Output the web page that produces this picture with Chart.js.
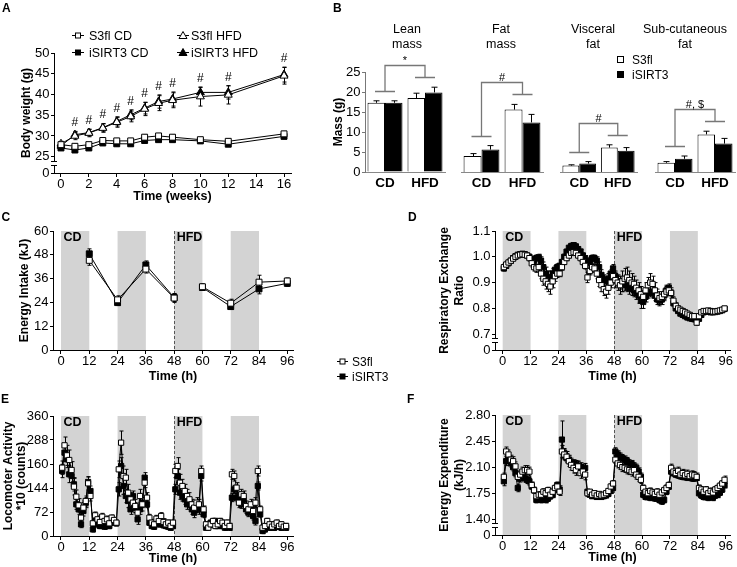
<!DOCTYPE html>
<html>
<head>
<meta charset="utf-8">
<title>Body weight, body composition and metabolic cage data</title>
<script src="https://cdn.jsdelivr.net/npm/chart.js@4.4.1/dist/chart.umd.min.js"></script>
<style>
  html, body { margin: 0; padding: 0; background: #fff; }
  body { position: relative; width: 737px; height: 567px; overflow: hidden; }
  canvas { position: absolute; }
  svg { position: absolute; left: 0; top: 0; pointer-events: none; }
  svg text { font-family: "Liberation Sans", Arial, sans-serif; fill: #000; }
</style>
</head>
<body>
<canvas id="chartA" width="300" height="205" style="left:0;top:0"></canvas>
<canvas id="chartLean" width="118" height="195" style="left:330px;top:0"></canvas>
<canvas id="chartFat" width="98" height="195" style="left:450px;top:0"></canvas>
<canvas id="chartVisc" width="95" height="195" style="left:548px;top:0"></canvas>
<canvas id="chartSub" width="97" height="195" style="left:640px;top:0"></canvas>
<canvas id="chartC" width="300" height="182" style="left:0;top:205px"></canvas>
<canvas id="chartD" width="357" height="182" style="left:380px;top:205px"></canvas>
<canvas id="chartE" width="300" height="177" style="left:0;top:390px"></canvas>
<canvas id="chartF" width="357" height="177" style="left:380px;top:390px"></canvas>

<svg width="737" height="567">
  <g font-weight="bold" font-size="12">
    <text x="2" y="11.5">A</text>
    <text x="333" y="11.5">B</text>
    <text x="1.5" y="220.5">C</text>
    <text x="408" y="220.5">D</text>
    <text x="1" y="402.5">E</text>
    <text x="407" y="402.5">F</text>
  </g>
  <!-- legend A -->
  <g stroke="#000" stroke-width="1">
    <line x1="72" y1="35.5" x2="84" y2="35.5"/>
    <rect x="75.5" y="33" width="5" height="5" fill="#fff"/>
    <line x1="72" y1="52.5" x2="84" y2="52.5"/>
    <rect x="75.5" y="50" width="5" height="5" fill="#000"/>
    <line x1="177" y1="35.5" x2="189" y2="35.5"/>
    <polygon points="183,31.5 187,38.5 179,38.5" fill="#fff"/>
    <line x1="177" y1="52.5" x2="189" y2="52.5"/>
    <polygon points="183,48.5 187,55.5 179,55.5" fill="#000"/>
  </g>
  <g font-size="12.5">
    <text x="89" y="39.5">S3fl CD</text>
    <text x="89" y="56.5">iSIRT3 CD</text>
    <text x="191" y="39.5">S3fl HFD</text>
    <text x="191" y="56.5">iSIRT3 HFD</text>
  </g>
  <!-- legend B -->
  <rect x="617.5" y="56.5" width="6" height="6" fill="#fff" stroke="#000"/>
  <rect x="617.5" y="71.5" width="6" height="6" fill="#000" stroke="#000"/>
  <g font-size="12">
    <text x="632" y="63.5">S3fl</text>
    <text x="632" y="78.5">iSIRT3</text>
  </g>
  <!-- titles B -->
  <g font-size="12.5" text-anchor="middle">
    <text x="407" y="33">Lean</text><text x="407" y="47.5">mass</text>
    <text x="501" y="33">Fat</text><text x="501" y="47.5">mass</text>
    <text x="593" y="33">Visceral</text><text x="593" y="47.5">fat</text>
    <text x="685" y="33">Sub-cutaneous</text><text x="685" y="47.5">fat</text>
  </g>
  <!-- legend C-F -->
  <g stroke="#000" stroke-width="1">
    <line x1="337" y1="361.5" x2="348" y2="361.5"/>
    <rect x="340" y="359" width="5" height="5" fill="#fff"/>
    <line x1="337" y1="376.5" x2="348" y2="376.5"/>
    <rect x="340" y="374" width="5" height="5" fill="#000"/>
  </g>
  <g font-size="12">
    <text x="352" y="365.5">S3fl</text>
    <text x="352" y="380.5">iSIRT3</text>
  </g>
</svg>

<script>
// ---- A: body weight (g) per week ----
const weeks = [0, 1, 2, 3, 4, 5, 6, 7, 8, 10, 12, 16];
const bwS3flCD      = [27.9, 27.5, 27.9, 28.9, 28.8, 28.8, 29.7, 30.0, 29.7, 29.1, 28.7, 30.5];
const bwS3flCDErr   = [0.5, 0.6, 0.5, 0.6, 0.6, 0.6, 0.6, 0.6, 0.6, 0.5, 0.6, 0.6];
const bwIsirtCD     = [27.1, 26.6, 27.1, 28.3, 28.1, 28.1, 28.9, 29.1, 29.1, 28.8, 28.0, 29.9];
const bwIsirtCDErr  = [0.5, 0.5, 0.5, 0.5, 0.5, 0.5, 0.5, 0.5, 0.5, 0.5, 0.5, 0.6];
const bwS3flHFD     = [28.1, 30.0, 30.7, 31.9, 33.3, 34.7, 36.5, 37.9, 38.6, 39.5, 39.9, 44.5];
const bwS3flHFDErr  = [0.6, 0.9, 0.9, 1.0, 1.2, 1.3, 1.6, 1.8, 1.8, 2.3, 2.2, 2.0];
const bwIsirtHFD    = [27.6, 30.3, 30.8, 32.0, 33.5, 35.1, 36.7, 38.3, 38.9, 40.5, 40.5, 44.8];
const bwIsirtHFDErr = [0.5, 0.8, 0.8, 1.0, 1.1, 1.2, 1.4, 1.6, 1.7, 1.2, 1.6, 1.8];
const sigA = ['', '#', '#', '#', '#', '#', '#', '#', '#', '#', '#', '#'];
const weekTicks = [0, 2, 4, 6, 8, 10, 12, 14, 16];
const bwTicks = [25, 30, 35, 40, 45, 50];

// ---- B: body composition (g) ----
const diets = ['CD', 'HFD'];
const leanS3fl = [17.3, 18.5],  leanS3flErr = [0.5, 1.2];
const leanIsirt = [17.3, 19.9], leanIsirtErr = [0.5, 1.3];
const fatS3fl = [4.0, 15.6],    fatS3flErr = [0.6, 1.3];
const fatIsirt = [5.6, 12.4],   fatIsirtErr = [1.0, 2.0];
const viscS3fl = [1.6, 6.1],    viscS3flErr = [0.2, 0.7];
const viscIsirt = [2.1, 5.3],   viscIsirtErr = [0.5, 0.8];
const subS3fl = [2.3, 9.4],     subS3flErr = [0.3, 0.8];
const subIsirt = [3.3, 7.1],    subIsirtErr = [0.7, 1.3];
const sigB = ['*', '#', '#', '#, $'];
const massTicks = [0, 5, 10, 15, 20, 25];

// ---- C: energy intake (kJ) per 12 h ----
const hoursC = [12, 24, 36, 48, 60, 72, 84, 96];
const intakeS3fl     = [45.2, 25.3, 40.8, 26.2, 31.9, 23.6, 34.2, 34.8];
const intakeS3flErr  = [2.5, 2.0, 2.0, 2.2, 1.5, 2.0, 3.5, 1.5];
const intakeIsirt    = [48.5, 23.9, 42.9, 26.5, 31.5, 21.9, 30.8, 33.6];
const intakeIsirtErr = [2.5, 1.5, 2.0, 2.0, 1.5, 1.5, 2.5, 1.5];
const intakeTicks = [0, 12, 24, 36, 48, 60];

// ---- D-F: hourly metabolic cage readings ----
const hours = [
  0.5, 1.5, 2.5, 3.5, 4.5, 5.5, 6.5, 7.5, 8.5, 9.5, 10.5, 11.5,
  12.5, 13.5, 14.5, 15.5, 16.5, 17.5, 18.5, 19.5, 20.5, 21.5, 22.5, 23.5,
  24.5, 25.5, 26.5, 27.5, 28.5, 29.5, 30.5, 31.5, 32.5, 33.5, 34.5, 35.5,
  36.5, 37.5, 38.5, 39.5, 40.5, 41.5, 42.5, 43.5, 44.5, 45.5, 46.5, 47.5,
  48.5, 49.5, 50.5, 51.5, 52.5, 53.5, 54.5, 55.5, 56.5, 57.5, 58.5, 59.5,
  60.5, 61.5, 62.5, 63.5, 64.5, 65.5, 66.5, 67.5, 68.5, 69.5, 70.5, 71.5,
  72.5, 73.5, 74.5, 75.5, 76.5, 77.5, 78.5, 79.5, 80.5, 81.5, 82.5, 83.5,
  84.5, 85.5, 86.5, 87.5, 88.5, 89.5, 90.5, 91.5, 92.5, 93.5, 94.5, 95.5
];
const hourTicks = [0, 12, 24, 36, 48, 60, 72, 84, 96];
const darkPhases = [[0, 12], [24, 36], [48, 60], [72, 84]];
const dietSwitch = 48;
const phaseLabels = [['CD', 0], ['HFD', 48]];

const rerS3fl = [
  .960, .970, .978, .985, .993, 1.000, 1.005, 1.008, 1.010, 1.008, 1.005, .995,
  .975, .960, .955, .960, .935, .915, .905, .895, .885, .905, .925, .935,
  .935, .960, .980, .995, 1.005, 1.015, 1.018, 1.015, 1.005, .995, .980, .965,
  .920, .945, .960, .955, .935, .910, .890, .875, .865, .880, .900, .925,
  .910, .900, .890, .905, .915, .920, .910, .900, .895, .880, .870, .855,
  .845, .870, .890, .900, .895, .870, .850, .840, .845, .855, .865, .870,
  .860, .830, .810, .800, .795, .790, .785, .780, .775, .770, .770, .745,
  .770, .785, .790, .790, .792, .790, .788, .788, .790, .792, .795, .800
];
const rerS3flErr = [
  .012, .010, .010, .008, .008, .008, .008, .008, .008, .008, .008, .010,
  .015, .015, .015, .015, .020, .025, .030, .030, .030, .025, .020, .015,
  .012, .012, .010, .010, .010, .010, .010, .010, .010, .012, .012, .012,
  .020, .015, .015, .015, .020, .025, .025, .025, .025, .025, .020, .020,
  .030, .030, .035, .040, .040, .040, .035, .035, .030, .030, .030, .030,
  .025, .030, .030, .035, .030, .030, .025, .025, .020, .020, .020, .020,
  .020, .015, .012, .010, .008, .008, .008, .008, .008, .008, .008, .010,
  .008, .008, .008, .008, .008, .006, .006, .006, .006, .006, .006, .006
];
const rerIsirt = [
  .955, .965, .975, .985, .995, 1.002, 1.008, 1.010, 1.012, 1.010, 1.005, 1.000,
  .990, .985, .995, .998, .985, .960, .935, .920, .920, .935, .950, .960,
  .965, .980, 1.000, 1.020, 1.035, 1.042, 1.045, 1.040, 1.030, 1.020, 1.005, .995,
  .975, .985, .995, .995, .985, .960, .930, .910, .905, .915, .935, .955,
  .925, .905, .895, .890, .895, .890, .880, .875, .870, .860, .850, .830,
  .825, .845, .860, .865, .860, .850, .835, .830, .835, .850, .870, .880,
  .860, .820, .800, .790, .780, .775, .770, .765, .762, .760, .758, .755,
  .760, .775, .785, .788, .788, .785, .785, .786, .788, .790, .793, .798
];
const rerIsirtErr = [
  .010, .010, .008, .008, .008, .008, .008, .008, .008, .008, .008, .010,
  .012, .012, .012, .012, .015, .020, .025, .025, .025, .020, .015, .012,
  .010, .010, .010, .010, .010, .010, .010, .010, .010, .010, .010, .010,
  .015, .012, .012, .012, .015, .020, .020, .020, .020, .020, .015, .015,
  .020, .020, .020, .025, .025, .025, .025, .025, .025, .025, .030, .030,
  .025, .020, .020, .020, .020, .020, .020, .020, .020, .020, .020, .015,
  .012, .010, .008, .008, .008, .008, .008, .008, .008, .008, .008, .008,
  .008, .008, .006, .006, .006, .006, .006, .006, .006, .006, .006, .006
];
const rerTicks = [0.7, 0.8, 0.9, 1.0, 1.1];

const locoS3fl = [
  205, 272, 242, 228, 198, 148, 118, 92, 55, 85, 105, 158,
  120, 38, 62, 50, 42, 58, 45, 50, 38, 55, 48, 40,
  200, 280, 180, 175, 130, 110, 100, 90, 70, 120, 95, 160,
  115, 55, 40, 35, 52, 45, 60, 42, 35, 40, 30, 40,
  195, 210, 160, 150, 135, 120, 110, 95, 85, 100, 95, 195,
  80, 35, 25, 35, 45, 30, 35, 45, 40, 30, 40, 30,
  185, 180, 145, 100, 125, 120, 90, 80, 95, 75, 100, 195,
  80, 25, 30, 45, 35, 28, 35, 40, 30, 35, 28, 30
];
const locoS3flErr = [
  20, 25, 30, 30, 25, 25, 20, 20, 15, 15, 15, 20,
  15, 10, 10, 10, 10, 10, 10, 10, 8, 8, 8, 8,
  25, 35, 30, 25, 25, 20, 20, 20, 20, 20, 20, 15,
  15, 10, 10, 10, 10, 10, 10, 10, 8, 8, 8, 8,
  20, 25, 25, 20, 20, 20, 20, 15, 15, 15, 15, 15,
  10, 8, 8, 8, 8, 8, 8, 8, 8, 8, 8, 8,
  15, 15, 15, 15, 15, 15, 15, 15, 15, 15, 15, 15,
  10, 8, 8, 8, 8, 8, 8, 8, 8, 8, 8, 8
];
const locoIsirt = [
  195, 250, 230, 185, 180, 155, 95, 80, 35, 75, 100, 162,
  135, 20, 45, 35, 30, 40, 28, 35, 30, 40, 45, 38,
  140, 210, 150, 120, 105, 80, 120, 85, 50, 80, 100, 175,
  95, 40, 30, 28, 40, 35, 45, 32, 30, 28, 25, 30,
  140, 180, 130, 120, 110, 95, 100, 80, 70, 85, 80, 180,
  65, 25, 30, 40, 35, 45, 30, 35, 30, 25, 30, 25,
  115, 140, 115, 120, 95, 110, 80, 70, 85, 60, 45, 150,
  65, 15, 20, 35, 25, 30, 25, 30, 28, 25, 28, 25
];
const locoIsirtErr = [
  20, 20, 25, 25, 20, 20, 15, 15, 10, 15, 15, 15,
  15, 8, 10, 10, 8, 8, 8, 8, 8, 8, 8, 8,
  20, 25, 25, 20, 20, 15, 15, 15, 15, 15, 15, 15,
  10, 8, 8, 8, 8, 8, 8, 8, 8, 8, 8, 8,
  15, 20, 20, 15, 15, 15, 15, 15, 15, 15, 15, 15,
  10, 8, 8, 8, 8, 8, 8, 8, 8, 8, 8, 8,
  12, 12, 12, 12, 12, 12, 12, 12, 12, 12, 12, 12,
  8, 8, 8, 8, 8, 8, 8, 8, 8, 8, 8, 8
];
const locoTicks = [0, 72, 144, 216, 288, 360];
const locoTickLabels = ['0', '72', '144', '160', '288', '360'];

const eeS3fl = [
  1.97, 2.31, 2.27, 2.20, 2.18, 2.11, 1.97, 2.00, 2.04, 2.06, 2.06, 2.04,
  1.86, 1.79, 1.71, 1.73, 1.73, 1.77, 1.75, 1.79, 1.73, 1.77, 1.82, 1.84,
  1.77, 2.31, 2.27, 2.24, 2.18, 2.13, 2.09, 2.06, 2.11, 2.02, 2.04, 2.00,
  1.75, 1.77, 1.73, 1.75, 1.72, 1.74, 1.72, 1.73, 1.75, 1.78, 1.84, 1.88,
  2.20, 2.15, 2.13, 2.10, 2.09, 2.07, 2.06, 2.04, 2.06, 2.00, 1.97, 1.93,
  1.82, 1.77, 1.75, 1.78, 1.76, 1.74, 1.77, 1.73, 1.76, 1.79, 1.82, 1.86,
  2.09, 2.04, 2.02, 2.05, 2.00, 2.02, 1.99, 2.01, 1.98, 2.00, 1.99, 1.97,
  1.82, 1.80, 1.77, 1.80, 1.75, 1.78, 1.76, 1.80, 1.82, 1.85, 1.88, 1.93
];
const eeS3flErr = [
  .05, .06, .06, .06, .06, .06, .06, .06, .06, .06, .06, .06,
  .04, .04, .04, .04, .04, .04, .04, .04, .04, .04, .04, .04,
  .05, .08, .07, .07, .07, .07, .07, .07, .07, .07, .07, .07,
  .04, .03, .03, .03, .03, .03, .03, .03, .03, .03, .04, .04,
  .05, .06, .06, .06, .06, .06, .06, .06, .06, .06, .06, .05,
  .04, .04, .04, .04, .04, .04, .04, .04, .04, .04, .04, .04,
  .05, .05, .05, .05, .05, .05, .05, .05, .05, .05, .05, .05,
  .04, .04, .04, .04, .04, .04, .04, .04, .04, .04, .04, .05
];
const eeIsirt = [
  1.91, 2.18, 2.20, 2.15, 2.10, 2.02, 1.82, 1.95, 1.97, 1.95, 1.93, 1.91,
  1.84, 1.79, 1.66, 1.68, 1.66, 1.68, 1.66, 1.68, 1.71, 1.73, 1.80, 1.86,
  1.80, 2.47, 2.29, 2.22, 2.20, 2.16, 2.14, 2.13, 2.12, 2.10, 2.08, 2.09,
  1.77, 1.73, 1.71, 1.72, 1.70, 1.71, 1.70, 1.71, 1.72, 1.74, 1.78, 1.82,
  2.31, 2.27, 2.24, 2.22, 2.20, 2.18, 2.15, 2.14, 2.11, 2.09, 2.04, 1.97,
  1.73, 1.70, 1.72, 1.69, 1.71, 1.68, 1.70, 1.66, 1.64, 1.66, 1.77, 1.84,
  2.04, 2.02, 2.00, 1.99, 1.98, 1.97, 1.97, 1.96, 1.96, 1.95, 1.95, 1.96,
  1.75, 1.72, 1.70, 1.73, 1.69, 1.71, 1.69, 1.72, 1.73, 1.76, 1.80, 1.86
];
const eeIsirtErr = [
  .06, .06, .05, .05, .05, .05, .05, .05, .05, .05, .05, .05,
  .04, .04, .04, .04, .04, .04, .04, .04, .04, .04, .04, .04,
  .05, .25, .06, .06, .06, .06, .06, .06, .06, .06, .06, .06,
  .03, .03, .03, .03, .03, .03, .03, .03, .03, .03, .03, .03,
  .05, .05, .05, .05, .05, .05, .05, .05, .05, .05, .05, .05,
  .04, .04, .04, .04, .04, .04, .04, .04, .04, .04, .04, .04,
  .04, .04, .04, .04, .04, .04, .04, .04, .04, .04, .04, .04,
  .04, .04, .04, .04, .04, .04, .04, .04, .04, .04, .04, .04
];
const eeTicks = [1.40, 1.75, 2.10, 2.45, 2.80];

const FONT = '"Liberation Sans", Arial, sans-serif';
Chart.defaults.font.family = FONT;
Chart.defaults.font.size = 13;
Chart.defaults.color = '#000';
Chart.defaults.animation = false;
Chart.defaults.responsive = false;
Chart.defaults.plugins.legend.display = false;
Chart.defaults.plugins.tooltip.enabled = false;

// shading, dashed diet switch, error bars, axis breaks, significance marks
const decor = {
  id: 'decor',
  beforeDatasetsDraw(chart, args, o) {
    const { ctx, chartArea: a } = chart;
    const x = chart.scales.x, y = chart.scales.y;
    ctx.save();
    if (o.dark) {
      ctx.fillStyle = '#d3d3d3';
      darkPhases.forEach(([s, e]) => {
        const x0 = x.getPixelForValue(s), x1 = x.getPixelForValue(e);
        ctx.fillRect(x0, a.top, x1 - x0, a.bottom - a.top);
      });
      const xd = Math.round(x.getPixelForValue(dietSwitch)) + 0.5;
      ctx.strokeStyle = '#555';
      ctx.lineWidth = 1;
      ctx.setLineDash([3, 2]);
      ctx.beginPath();
      ctx.moveTo(xd, a.top);
      ctx.lineTo(xd, a.bottom);
      ctx.stroke();
      ctx.setLineDash([]);
    }
    ctx.strokeStyle = '#000';
    ctx.lineWidth = 1;
    const cw = o.cap || 2;
    chart.data.datasets.forEach((ds, i) => {
      if (!ds.errors) return;
      chart.getDatasetMeta(i).data.forEach((el, j) => {
        const e = ds.errors[j];
        const d = ds.data[j];
        const v = typeof d === 'object' ? d.y : d;
        const px = Math.round(el.x) + 0.5;
        const yt = y.getPixelForValue(v + e);
        const yb = o.oneSided ? y.getPixelForValue(v) : y.getPixelForValue(v - e);
        ctx.beginPath();
        ctx.moveTo(px, yt); ctx.lineTo(px, yb);
        ctx.moveTo(px - cw, yt); ctx.lineTo(px + cw, yt);
        if (!o.oneSided) { ctx.moveTo(px - cw, yb); ctx.lineTo(px + cw, yb); }
        ctx.stroke();
      });
    });
    ctx.restore();
  },
  afterDraw(chart, args, o) {
    const { ctx, chartArea: a } = chart;
    const x = chart.scales.x, y = chart.scales.y;
    ctx.save();
    if (o.brk != null) {
      const yb = Math.round(y.getPixelForValue(o.brk)) + 4;
      const xl = Math.round(a.left);
      ctx.fillStyle = '#fff';
      ctx.fillRect(xl - 1, yb, 3, 5);
      ctx.strokeStyle = '#000';
      ctx.lineWidth = 1;
      ctx.beginPath();
      ctx.moveTo(xl - 3, yb + 0.5); ctx.lineTo(xl + 3, yb + 0.5);
      ctx.moveTo(xl - 3, yb + 4.5); ctx.lineTo(xl + 3, yb + 4.5);
      ctx.stroke();
    }
    if (o.dark) {
      ctx.fillStyle = '#000';
      ctx.font = 'bold 12.5px ' + FONT;
      ctx.textAlign = 'left';
      ctx.textBaseline = 'middle';
      phaseLabels.forEach(([t, h]) => ctx.fillText(t, x.getPixelForValue(h) + 2.5, a.top + 7));
    }
    if (o.sigMarks) {
      ctx.fillStyle = '#000';
      ctx.font = '12px ' + FONT;
      ctx.textAlign = 'center';
      ctx.textBaseline = 'alphabetic';
      sigA.forEach((s, i) => {
        if (!s) return;
        let top = Infinity, px = 0;
        [2, 3].forEach(k => {
          const ds = chart.data.datasets[k];
          top = Math.min(top, y.getPixelForValue(ds.data[i].y + ds.errors[i]));
          px = chart.getDatasetMeta(k).data[i].x;
        });
        ctx.fillText(s, px, top - 5);
      });
    }
    if (o.bracket) {
      const ds = chart.data.datasets;
      const hi = j => Math.min(...ds.map(d => y.getPixelForValue(d.data[j] + d.errors[j])));
      const x0 = x.getPixelForValue(0), x1 = x.getPixelForValue(1);
      const c0 = Math.round(hi(0) - 10) + 0.5, c1 = Math.round(hi(1) - 10) + 0.5;
      const top = c1 - 12;
      ctx.strokeStyle = '#777';
      ctx.lineWidth = 1.3;
      ctx.beginPath();
      ctx.moveTo(x0 - 10, c0); ctx.lineTo(x0 + 10, c0);
      ctx.moveTo(x0, c0); ctx.lineTo(x0, top); ctx.lineTo(x1, top); ctx.lineTo(x1, c1);
      ctx.moveTo(x1 - 10, c1); ctx.lineTo(x1 + 10, c1);
      ctx.stroke();
      ctx.fillStyle = '#000';
      ctx.font = '11px ' + FONT;
      ctx.textAlign = 'center';
      ctx.textBaseline = 'alphabetic';
      ctx.fillText(o.bracket, (x0 + x1) / 2, top - 2);
    }
    ctx.restore();
  }
};
Chart.register(decor);

function yAxis(o) {
  const color = o.color || '#000';
  const shown = o.display !== false;
  return {
    type: 'linear',
    display: shown,
    min: o.min, max: o.max,
    afterFit: s => { s.width = shown ? o.width : 0; },
    afterBuildTicks: s => { s.ticks = o.ticks.map(v => ({ value: v })); },
    border: { color: color, width: 1 },
    grid: { drawOnChartArea: false, tickLength: 3, color: color },
    ticks: { padding: 1.5, autoSkip: false, callback: o.label },
    title: {
      display: !!o.title, text: o.title,
      font: { size: 12, weight: 'bold', lineHeight: o.lineHeight || 1.2 },
      padding: { top: o.titlePad || 0, bottom: 0 }
    }
  };
}

function xAxis(o) {
  return {
    type: 'linear', min: o.min, max: o.max,
    afterFit: s => { s.height = o.height; },
    afterBuildTicks: s => { s.ticks = o.ticks.map(v => ({ value: v })); },
    border: { color: '#000', width: 1 },
    grid: { drawOnChartArea: false, tickLength: 4, color: '#000' },
    ticks: { padding: 0, autoSkip: false, maxRotation: 0 },
    title: {
      display: true, text: o.title,
      font: { size: 12.5, weight: 'bold' },
      padding: { top: 0, bottom: o.titlePad }
    }
  };
}

function series(xs, ys, errs, filled, shape, r) {
  return {
    data: xs.map((x, i) => ({ x: x, y: ys[i] })),
    errors: errs,
    borderColor: '#000',
    borderWidth: 1,
    pointStyle: shape,
    pointRadius: r,
    pointBackgroundColor: filled ? '#000' : '#fff',
    pointBorderColor: '#000',
    pointBorderWidth: 1
  };
}

// ---- A ----
const bwMin = 21.06;
new Chart(document.getElementById('chartA'), {
  type: 'line',
  data: {
    datasets: [
      series(weeks, bwS3flCD, bwS3flCDErr, false, 'rect', 4.2),
      series(weeks, bwIsirtCD, bwIsirtCDErr, true, 'rect', 4.2),
      series(weeks, bwS3flHFD, bwS3flHFDErr, false, 'triangle', 4.6),
      series(weeks, bwIsirtHFD, bwIsirtHFDErr, true, 'triangle', 4.6)
    ]
  },
  options: {
    layout: { padding: { top: 53, right: 9, left: 0, bottom: 0 } },
    scales: {
      x: xAxis({ min: -0.5, max: 16.5, ticks: weekTicks, height: 32, title: 'Time (weeks)', titlePad: 1 }),
      y: yAxis({ min: bwMin, max: 50, ticks: [bwMin].concat(bwTicks), width: 54,
                 label: (v, i) => i === 0 ? '0' : v, title: 'Body weight (g)', titlePad: 19.8 })
    },
    plugins: { decor: { brk: 25, sigMarks: true } }
  }
});

// ---- B ----
function massChart(id, s3fl, s3flErr, isirt, isirtErr, sig, showY, padL, padR) {
  return new Chart(document.getElementById(id), {
    type: 'bar',
    data: {
      labels: diets,
      datasets: [
        { data: s3fl, errors: s3flErr, backgroundColor: '#fff', borderColor: '#000', borderWidth: 1,
          categoryPercentage: 0.875, barPercentage: 1 },
        { data: isirt, errors: isirtErr, backgroundColor: '#000', borderColor: '#000', borderWidth: 1,
          categoryPercentage: 0.875, barPercentage: 1 }
      ]
    },
    options: {
      layout: { padding: { top: 72, bottom: 0, left: padL, right: padR } },
      scales: {
        x: {
          type: 'category',
          afterFit: s => { s.height = 23; },
          border: { color: '#888' },
          grid: { drawOnChartArea: false, drawTicks: false },
          ticks: { padding: 3, autoSkip: false, maxRotation: 0, minRotation: 0,
                   font: { size: 13.5, weight: 'bold' } }
        },
        y: yAxis({ display: showY, min: 0, max: 25, ticks: massTicks, width: 35,
                   title: 'Mass (g)', titlePad: 1.8, color: '#777' })
      },
      plugins: { decor: { oneSided: true, cap: 3, bracket: sig } }
    }
  });
}
massChart('chartLean', leanS3fl, leanS3flErr, leanIsirt, leanIsirtErr, sigB[0], true, 0, 3);
massChart('chartFat', fatS3fl, fatS3flErr, fatIsirt, fatIsirtErr, sigB[1], false, 11, 5);
massChart('chartVisc', viscS3fl, viscS3flErr, viscIsirt, viscIsirtErr, sigB[2], false, 12, 6);
massChart('chartSub', subS3fl, subS3flErr, subIsirt, subIsirtErr, sigB[3], false, 15, 2);

// ---- C ----
const gapAtSwitch = { borderColor: c => c.p0.parsed.x === dietSwitch ? 'rgba(0,0,0,0)' : undefined };
new Chart(document.getElementById('chartC'), {
  type: 'line',
  data: {
    datasets: [
      Object.assign(series(hoursC, intakeS3fl, intakeS3flErr, false, 'rect', 4.2), { segment: gapAtSwitch }),
      Object.assign(series(hoursC, intakeIsirt, intakeIsirtErr, true, 'rect', 4.2), { segment: gapAtSwitch })
    ]
  },
  options: {
    layout: { padding: { top: 26, right: 7, left: 0, bottom: 0 } },
    scales: {
      x: xAxis({ min: -3.39, max: 98.42, ticks: hourTicks, height: 37, title: 'Time (h)', titlePad: 3 }),
      y: yAxis({ min: 0, max: 60, ticks: intakeTicks, width: 53, title: 'Energy Intake (kJ)', titlePad: 17.8 })
    },
    plugins: { decor: { dark: true } }
  }
});

// ---- D ----
const rerMin = 0.639;
new Chart(document.getElementById('chartD'), {
  type: 'line',
  data: {
    datasets: [
      series(hours, rerS3fl, rerS3flErr, false, 'rect', 3.7),
      series(hours, rerIsirt, rerIsirtErr, true, 'rect', 3.7)
    ]
  },
  options: {
    layout: { padding: { top: 26, right: 7, left: 0, bottom: 0 } },
    scales: {
      x: xAxis({ min: -3.31, max: 97.85, ticks: hourTicks, height: 37, title: 'Time (h)', titlePad: 3 }),
      y: yAxis({ min: rerMin, max: 1.1, ticks: [rerMin].concat(rerTicks), width: 115,
                 label: (v, i) => i === 0 ? '0' : v.toFixed(1),
                 title: ['Respiratory Exchange', 'Ratio'], lineHeight: 1.25, titlePad: 57.5 })
    },
    plugins: { decor: { dark: true, brk: 0.7 } }
  }
});

// ---- E ----
new Chart(document.getElementById('chartE'), {
  type: 'line',
  data: {
    datasets: [
      series(hours, locoS3fl, locoS3flErr, false, 'rect', 3.7),
      series(hours, locoIsirt, locoIsirtErr, true, 'rect', 3.7)
    ]
  },
  options: {
    layout: { padding: { top: 26, right: 7, left: 0, bottom: 0 } },
    scales: {
      x: xAxis({ min: -3.39, max: 98.42, ticks: hourTicks, height: 31, title: 'Time (h)', titlePad: 1 }),
      y: yAxis({ min: 0, max: 360, ticks: locoTicks, width: 53,
                 label: (v, i) => locoTickLabels[i],
                 title: ['Locomoter Activity', '*10 (counts)'], lineHeight: 1.08, titlePad: 1.8 })
    },
    plugins: { decor: { dark: true } }
  }
});

// ---- F ----
const eeMin = 1.189;
new Chart(document.getElementById('chartF'), {
  type: 'line',
  data: {
    datasets: [
      series(hours, eeS3fl, eeS3flErr, false, 'rect', 3.7),
      series(hours, eeIsirt, eeIsirtErr, true, 'rect', 3.7)
    ]
  },
  options: {
    layout: { padding: { top: 25, right: 7, left: 0, bottom: 0 } },
    scales: {
      x: xAxis({ min: -3.31, max: 97.85, ticks: hourTicks, height: 32, title: 'Time (h)', titlePad: 2 }),
      y: yAxis({ min: eeMin, max: 2.8, ticks: [eeMin].concat(eeTicks), width: 115,
                 label: (v, i) => i === 0 ? '0' : v.toFixed(2),
                 title: ['Energy Expenditure', '(kJ/h)'], lineHeight: 1.25, titlePad: 57.5 })
    },
    plugins: { decor: { dark: true, brk: 1.40 } }
  }
});
</script>
</body>
</html>
